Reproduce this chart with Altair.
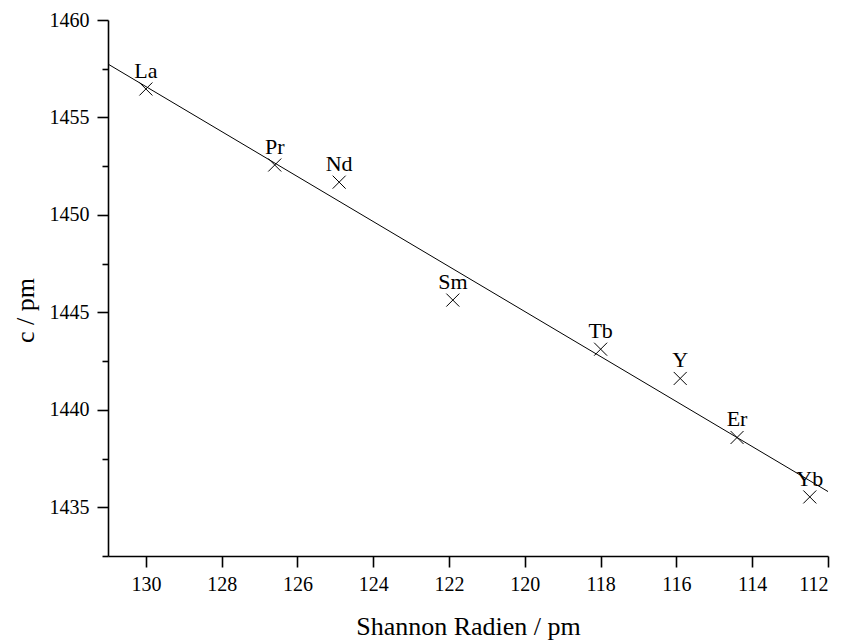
import altair as alt
import pandas as pd

# Lattice parameter c against the Shannon ionic radius of the rare-earth ion
elements = ["La", "Pr", "Nd", "Sm", "Tb", "Y", "Er", "Yb"]
radius_pm = [130.0, 126.6, 124.9, 121.9, 118.0, 115.9, 114.4, 112.48]
c_pm = [1456.46, 1452.56, 1451.68, 1445.63, 1443.11, 1441.61, 1438.58, 1435.53]

x_ticks = list(range(112, 132))
y_ticks = [1432.5 + 2.5 * i for i in range(12)]

df = pd.DataFrame({"element": elements, "r": radius_pm, "c": c_pm})

FONT = "'Times New Roman', 'Liberation Serif', 'DejaVu Serif', serif"

x_scale = alt.Scale(domain=[112, 131], reverse=True, nice=False, zero=False)
y_scale = alt.Scale(domain=[1432.5, 1460], nice=False, zero=False)

x_axis = alt.Axis(
    title="Shannon Radien / pm",
    values=x_ticks,
    labelExpr="datum.value % 2 === 0 ? datum.label : ''",
    tickSize={"condition": {"test": "datum.value % 2 === 0", "value": 11}, "value": 6},
    tickWidth=1.6,
    tickColor="black",
    domainColor="black",
    domainWidth=1.6,
    grid=False,
    labelFont=FONT,
    labelFontSize=20,
    labelColor="black",
    labelPadding=7,
    titleFont=FONT,
    titleFontSize=26,
    titleFontWeight="normal",
    titleColor="black",
    titleBaseline="alphabetic",
    titleY=78,
)

y_axis = alt.Axis(
    title="c / pm",
    values=y_ticks,
    labelExpr="datum.value % 5 === 0 ? datum.label : ''",
    format="d",
    tickSize={"condition": {"test": "datum.value % 5 === 0", "value": 11}, "value": 6},
    tickWidth=1.6,
    tickColor="black",
    domainColor="black",
    domainWidth=1.6,
    grid=False,
    labelFont=FONT,
    labelFontSize=20,
    labelColor="black",
    labelPadding=8,
    titleFont=FONT,
    titleFontSize=26,
    titleFontWeight="normal",
    titleColor="black",
    titleBaseline="middle",
    titleX=-83,
    titleY=290,
)

base = alt.Chart(df)

fit = base.transform_regression("r", "c", extent=[112, 131]).mark_line(
    color="black", strokeWidth=1
).encode(
    x=alt.X("r:Q", scale=x_scale, axis=x_axis),
    y=alt.Y("c:Q", scale=y_scale, axis=y_axis),
)

points = base.mark_point(
    shape="M-1,-1L1,1M-1,1L1,-1",
    size=169,
    filled=False,
    color="black",
    strokeWidth=1,
    opacity=1,
).encode(x="r:Q", y="c:Q")

labels = base.mark_text(
    font=FONT, fontSize=22, color="black", baseline="alphabetic", align="center", dy=-11
).encode(x="r:Q", y="c:Q", text="element:N")

chart = (
    alt.layer(fit, points, labels)
    .properties(
        width=720,
        height=536,
        autosize=alt.AutoSizeParams(type="none"),
        padding={"left": 108, "top": 20, "right": 19, "bottom": 88},
        background="white",
    )
    .configure_view(stroke=None)
)

chart.save("out.html", embed_options={"renderer": "svg", "actions": False})
